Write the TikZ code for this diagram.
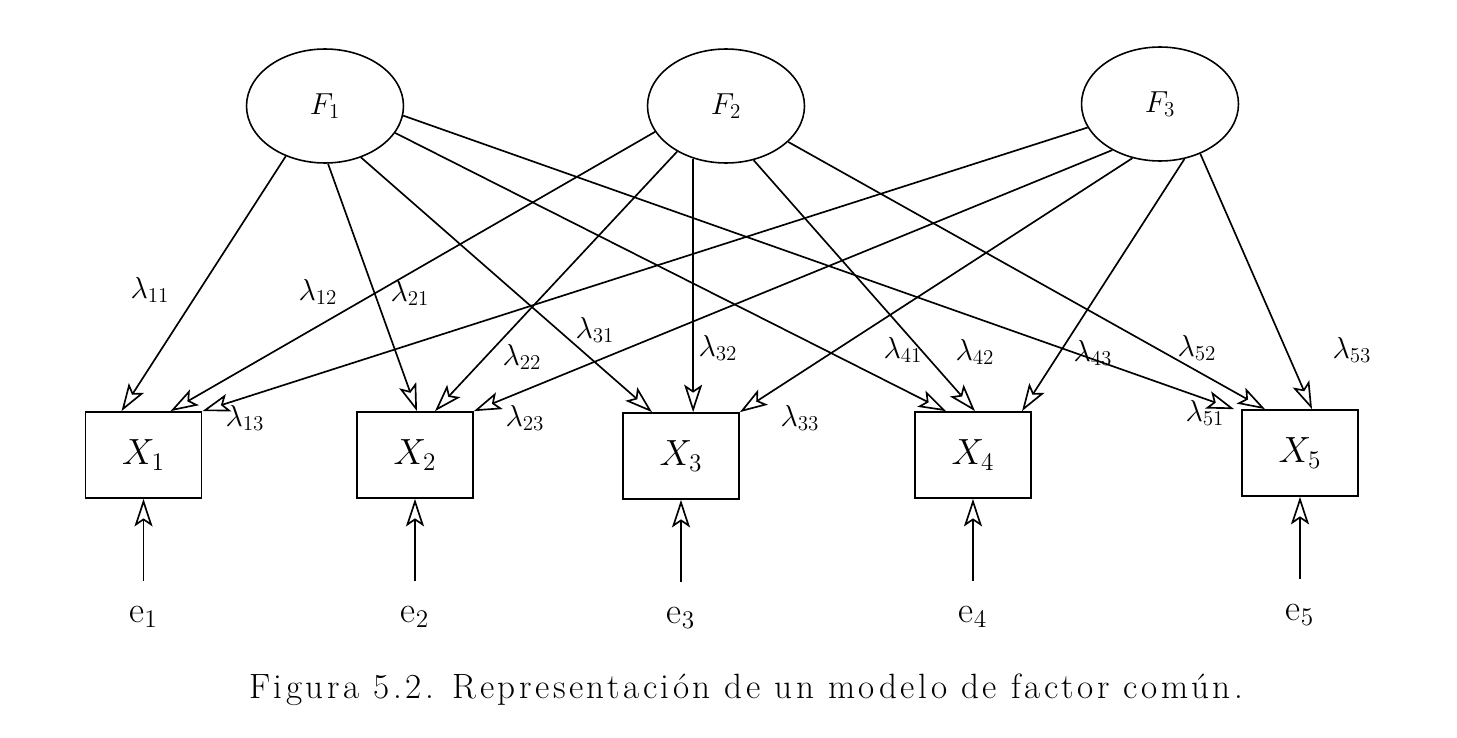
\documentclass[tikz,border=0pt]{standalone}
\usepackage{amsmath}
\usepackage{fontspec}
\usepackage{tikz}
\usetikzlibrary{arrows.meta,positioning,shapes.geometric}
\newfontfamily\capfont[LetterSpace=10]{Latin Modern Roman}
\tikzset{
  factor/.style={
    draw,
    ellipse,
    line width=0.9pt,
    minimum width=3.14cm,
    minimum height=2.28cm,
    inner sep=0pt,
    font=\fontsize{18}{21}\selectfont
  },
  item/.style={
    draw,
    line width=1pt,
    minimum width=2.32cm,
    minimum height=1.72cm,
    inner sep=0pt,
    font=\fontsize{22}{25}\selectfont
  },
  errlab/.style={inner sep=0pt,font=\fontsize{21}{24}\selectfont},
  loadlab/.style={inner sep=0pt,font=\fontsize{18}{21}\selectfont},
  loading/.style={-{Stealth[open,length=5.5mm,width=3.6mm,inset=1.2mm]},line width=0.95pt},
  erradd/.style={loading,shorten <=0.5cm}
}

\begin{document}
\begin{tikzpicture}[x=0.02cm,y=-0.02cm]
    \useasboundingbox (0,0) rectangle (1457,737);
    \node[factor] (F1) at (325,106) {$F_1$};
    \node[factor] (F2) at (726,106) {$F_2$};
    \node[factor] (F3) at (1160,104) {$F_3$};

    \node[item] (X1) at (143.5,455) {$X_1$};
    \node[item] (X2) at (415,455) {$X_2$};
    \node[item] (X3) at (681,456) {$X_3$};
    \node[item] (X4) at (973,455) {$X_4$};
    \node[item] (X5) at (1300,453) {$X_5$};

    \node[errlab,below=2.14cm of X1] (e1) {$\mathrm{e}_1$};
    \node[errlab,below=2.14cm of X2] (e2) {$\mathrm{e}_2$};
    \node[errlab,below=2.14cm of X3] (e3) {$\mathrm{e}_3$};
    \node[errlab,below=2.14cm of X4] (e4) {$\mathrm{e}_4$};
    \node[errlab,below=2.14cm of X5] (e5) {$\mathrm{e}_5$};

    \node[loadlab] (l11) at (150,290) {$\lambda_{11}$};
    \node[loadlab] (l12) at (318,292) {$\lambda_{12}$};
    \node[loadlab] (l21) at (410,293) {$\lambda_{21}$};
    \node[loadlab] (l13) at (245,418) {$\lambda_{13}$};
    \node[loadlab] (l22) at (522,357) {$\lambda_{22}$};
    \node[loadlab] (l23) at (525,418) {$\lambda_{23}$};
    \node[loadlab] (l31) at (595,330) {$\lambda_{31}$};
    \node[loadlab] (l32) at (718,348) {$\lambda_{32}$};
    \node[loadlab] (l33) at (800,418) {$\lambda_{33}$};
    \node[loadlab] (l41) at (903,350) {$\lambda_{41}$};
    \node[loadlab] (l42) at (975,352) {$\lambda_{42}$};
    \node[loadlab] (l43) at (1093,353) {$\lambda_{43}$};
    \node[loadlab] (l52) at (1197,348) {$\lambda_{52}$};
    \node[loadlab] (l51) at (1205,413) {$\lambda_{51}$};
    \node[loadlab] (l53) at (1352,350) {$\lambda_{53}$};

    \node[font=\capfont\fontsize{20}{23}\selectfont] (caption) at (746,690)
      {Figura 5.2. Representación de un modelo de factor común.};

    \draw[loading] (F1.-128) -- ([shift={(-22,0)}]X1.north);
    \draw[loading] (F1.-87) -- ([shift={(2,0)}]X2.north);
    \draw[loading] (F1.-55) -- ([shift={(-29,0)}]X3.north);
    \draw[loading] (F1.-21) -- ([shift={(-27,0)}]X4.north);
    \draw[loading] (F1.-7) -- ([shift={(-7,0)}]X5.north west);

    \draw[loading] (F2.-160) -- ([shift={(27,0)}]X1.north);
    \draw[loading] (F2.-137) -- ([shift={(20,0)}]X2.north);
    \draw[loading] (F2.-122) -- (F2.-122 |- X3.north);
    \draw[loading] (F2.-63) -- ([shift={(2,0)}]X4.north);
    \draw[loading] (F2.-30) -- ([shift={(-35,0)}]X5.north);

    \draw[loading] (F3.-162) -- (X1.north east);
    \draw[loading] (F3.-136) -- (X2.north east);
    \draw[loading] (F3.-117) -- (X3.north east);
    \draw[loading] (F3.-66) -- ([shift={(49,0)}]X4.north);
    \draw[loading] (F3.-51) -- ([shift={(12,0)}]X5.north);

    \draw[erradd] (e1) -- (X1);
    \draw[erradd] (e2) -- (X2);
    \draw[erradd] (e3) -- (X3);
    \draw[erradd] (e4) -- (X4);
    \draw[erradd] (e5) -- (X5);
  \end{tikzpicture}
\end{document}
